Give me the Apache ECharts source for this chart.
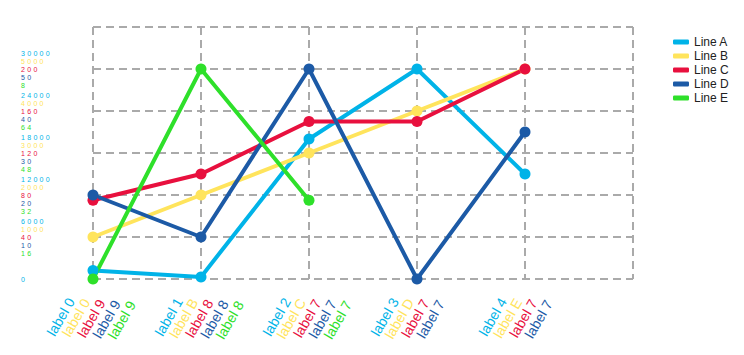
<!DOCTYPE html>
<html><head><meta charset="utf-8">
<script src="https://cdn.jsdelivr.net/npm/echarts@6/dist/echarts.min.js"></script>
<style>
html,body{margin:0;padding:0;background:#fff;}
#c{width:744px;height:355px;}
#c text[style*=" 7px"]{letter-spacing:2.3px;}
</style></head><body><div id="c"></div>
<script>
const seriesNames = ['Line A', 'Line B', 'Line C', 'Line D', 'Line E'];
const colors = ['#00b3e8', '#ffe45c', '#e8103e', '#1c5aa6', '#2ee02a'];

const lineA = [1200, 300, 20000, 30000, 15000];
const lineB = [1000, 2000, 3000, 4000, 5000];
const lineC = [75, 100, 150, 150, 200];
const lineD = [20, 10, 50, 0, 35];
const lineE = [0, 80, 30];

const xLabelsA = ['label 0', 'label 1', 'label 2', 'label 3', 'label 4'];
const xLabelsB = ['label 0', 'label B', 'label C', 'label D', 'label E'];
const xLabelsC = ['label 9', 'label 8', 'label 7', 'label 7', 'label 7'];
const xLabelsD = ['label 9', 'label 8', 'label 7', 'label 7', 'label 7'];
const xLabelsE = ['label 9', 'label 8', 'label 7'];

const yTicksA = ['0', '6000', '12000', '18000', '24000', '30000'];
const yTicksB = ['0', '1000', '2000', '3000', '4000', '5000'];
const yTicksC = ['0', '40', '80', '120', '160', '200'];
const yTicksD = ['0', '10', '20', '30', '40', '50'];
const yTicksE = ['0', '16', '32', '48', '64', '8'];

const yMax = [36000, 6000, 240, 60, 96];
const yStepA = 6000;
const nCats = 6;

const allData = [lineA, lineB, lineC, lineD, lineE];
const allX = [xLabelsA, xLabelsB, xLabelsC, xLabelsD, xLabelsE];
const allY = [yTicksA, yTicksB, yTicksC, yTicksD, yTicksE];
const keys = ['a', 'b', 'c', 'd', 'e'];

const FONT = 'Liberation Sans, Arial, sans-serif';
// per-axis label offsets (so the five label rows sit side by side)
const labelPad = [[-31.0, 2.5, 0, 0], [-13.4, 2.5, 0, 0], [4.3, 2.5, 0, 0], [22.0, 2.5, 0, 0], [39.6, 2.5, 0, 0]];
const labelMargin = [29.9, 21.8, 13.7, 5.6, -2.5];

const rich = {};
keys.forEach((k, i) => { rich[k] = { color: colors[i], fontSize: 7, lineHeight: 8, fontFamily: FONT }; });

const xAxes = allX.map((labels, i) => {
  const data = labels.slice();
  while (data.length < nCats) data.push('');
  return {
    type: 'category', gridIndex: 0, position: 'bottom', boundaryGap: false, data: data,
    axisLine: { show: false }, axisTick: { show: false },
    splitLine: { show: i === 0, lineStyle: { color: '#aaaaaa', width: 2, type: [8, 5] } },
    axisLabel: { interval: 0, rotate: 60, color: colors[i], fontSize: 14, fontFamily: FONT,
      margin: labelMargin[i], padding: labelPad[i], verticalAlign: 'top' }
  };
});

const yAxes = yMax.map((mx, i) => ({
  type: 'value', min: 0, max: mx, interval: mx / 6, show: i === 0, position: 'left',
  axisLine: { show: false }, axisTick: { show: false },
  splitLine: { show: i === 0, lineStyle: { color: '#aaaaaa', width: 2, type: [8, 5] } },
  axisLabel: i === 0 ? {
    align: 'left', margin: 72, rich: rich,
    formatter: function (v) {
      const idx = Math.round(v / yStepA);
      if (idx >= yTicksA.length) return '';
      if (idx === 0) return '{a|' + yTicksA[0] + '}';
      return keys.map((k, j) => '{' + k + '|' + allY[j][idx] + '}').join('\n');
    }
  } : { show: false }
}));

const series = allData.map((d, i) => ({
  name: seriesNames[i], type: 'line', data: d, xAxisIndex: i, yAxisIndex: i,
  symbol: 'circle', symbolSize: 11, color: colors[i],
  lineStyle: { width: 4, color: colors[i] }, itemStyle: { color: colors[i] },
  emphasis: { disabled: true }
}));

const chart = echarts.init(document.getElementById('c'), null, { renderer: 'svg' });
chart.setOption({
  animation: false,
  backgroundColor: '#fff',
  grid: { left: 93, right: 111, top: 27, bottom: 76, containLabel: false, outerBoundsMode: 'none' },
  legend: {
    orient: 'vertical', left: 668, top: 30, icon: 'roundRect', itemWidth: 16, itemHeight: 5,
    itemGap: 0, data: seriesNames,
    textStyle: { fontSize: 12, fontFamily: FONT, color: '#222', lineHeight: 14 }
  },
  xAxis: xAxes,
  yAxis: yAxes,
  series: series
});
</script></body></html>
